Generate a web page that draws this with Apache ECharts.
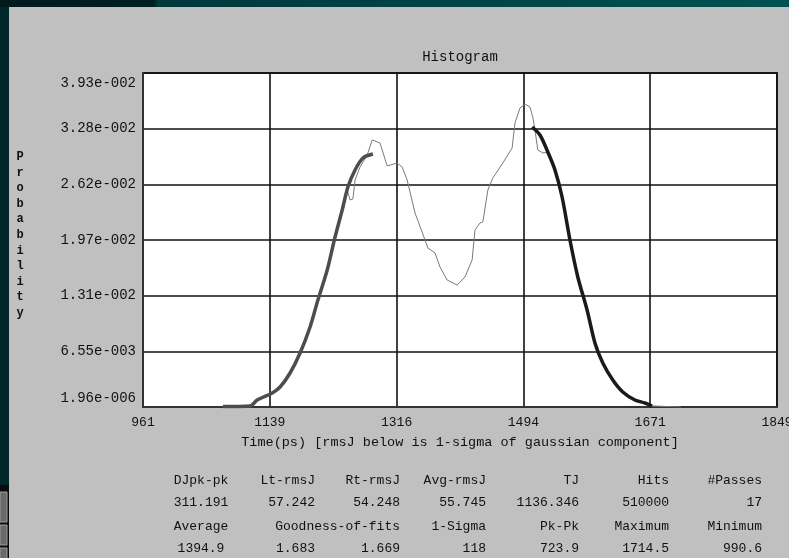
<!DOCTYPE html>
<html>
<head>
<meta charset="utf-8">
<script src="https://cdn.jsdelivr.net/npm/echarts@6.0.0/dist/echarts.min.js"></script>
<style>
html,body{margin:0;padding:0;background:#c0c0c0;}
#chart{width:789px;height:558px;}
</style>
</head>
<body>
<div id="chart"></div>
<script>
// ---- data ----
const xTickLabels = ["961","1139","1316","1494","1671","1849"];
const yTickLabels = ["1.96e-006","6.55e-003","1.31e-002","1.97e-002","2.62e-002","3.28e-002","3.93e-002"];
const xMin = 961, xMax = 1849, yMax = 0.0393;

const histTime = [1073,1111,1121,1142,1153,1167,1181,1195,1206,1219,1230,1240,1247,1251,1255,1258,1265,1275,1282,1293,1303,1317,1324,1331,1342,1356,1360,1370,1377,1387,1401,1412,1422,1426,1433,1437,1444,1451,1465,1478,1482,1489,1496,1503,1507,1510,1514,1521,1528,1538,1548,1559,1570,1583,1594,1605,1619,1633,1650,1664,1674,1714.5];
const histProb = [0.00006,0.00012,0.00082,0.00165,0.00235,0.0040,0.00635,0.00941,0.01259,0.01612,0.0200,0.02318,0.02553,0.02436,0.02447,0.02671,0.02824,0.02965,0.03142,0.03106,0.02836,0.02871,0.02824,0.02671,0.02283,0.01965,0.01871,0.01812,0.01647,0.01494,0.01435,0.0153,0.0173,0.02083,0.02165,0.02177,0.02553,0.02695,0.02871,0.03048,0.03342,0.03518,0.03565,0.0353,0.03412,0.03259,0.03024,0.02989,0.03,0.02789,0.02471,0.01965,0.0153,0.01141,0.00753,0.00518,0.00318,0.00177,0.00082,0.00047,0.00012,0];

const leftFitTime = [1073,1111,1121,1142,1153,1167,1181,1195,1206,1219,1230,1240,1248,1258,1269,1283];
const leftFitProb = [0.00006,0.00012,0.00082,0.00165,0.00235,0.0040,0.00635,0.00941,0.01259,0.01612,0.0200,0.02318,0.02589,0.02789,0.0293,0.02977];

const rightFitTime = [1506,1517,1528,1538,1548,1559,1570,1583,1594,1605,1619,1633,1650,1664,1674];
const rightFitProb = [0.03295,0.03201,0.03,0.02789,0.02471,0.01965,0.0153,0.01141,0.00753,0.00518,0.00318,0.00177,0.00082,0.00047,0.00012];

const tableHead1 = ["DJpk-pk","Lt-rmsJ","Rt-rmsJ","Avg-rmsJ","TJ","Hits","#Passes"];
const tableVal1  = ["311.191","57.242","54.248","55.745","1136.346","510000","17"];
const tableHead2 = ["Average","","Goodness-of-fits","1-Sigma","Pk-Pk","Maximum","Minimum"];
const tableVal2  = ["1394.9","1.683","1.669","118","723.9","1714.5","990.6"];

const titleText = "Histogram";
const yName = "Probability";
const xName = "Time(ps) [rmsJ below is 1-sigma of gaussian component]";

// ---- build ----
const FONT = "'Liberation Mono', 'DejaVu Sans Mono', monospace";
const zip = (a,b) => a.map((v,i)=>[v,b[i]]);

const colRight = [0,315,400,486,579,669,762];
const colCenter1 = 201;
const rowsY = [481,503,527,549];
const tableGraphics = [];
[tableHead1, tableVal1, tableHead2, tableVal2].forEach((row, r) => {
  row.forEach((txt, c) => {
    if (!txt) return;
    tableGraphics.push({
      type:'text',
      x: c === 0 ? colCenter1 : colRight[c],
      y: rowsY[r],
      style:{text:txt, font:'13px ' + FONT, fill:'#111', align: c===0?'center':'right', verticalAlign:'middle'}
    });
  });
});

const chart = echarts.init(document.getElementById('chart'), null, {renderer:'canvas'});
chart.setOption({
  animation:false,
  backgroundColor:'#c0c0c0',
  grid:{left:143, top:73, right:12, bottom:151, show:true, backgroundColor:'#ffffff', borderColor:'#333', borderWidth:2,
        containLabel:false, outerBoundsMode:'none'},
  xAxis:[
    {type:'value', min:xMin, max:xMax, show:false, gridIndex:0},
    {type:'value', min:0, max:5, interval:1, position:'bottom', gridIndex:0,
     axisLine:{show:true, lineStyle:{color:'#333', width:2}},
     axisTick:{show:false},
     splitLine:{show:true, lineStyle:{color:'#111', width:1.6}},
     axisLabel:{margin:9, color:'#111', fontFamily:FONT, fontSize:13, hideOverlap:false,
       formatter:(v)=>xTickLabels[Math.round(v)]},
     name:xName, nameLocation:'middle', nameGap:28,
     nameTextStyle:{color:'#111', fontFamily:FONT, fontSize:13.5}}
  ],
  yAxis:[
    {type:'value', min:0, max:yMax, show:false, gridIndex:0, position:'left'},
    {type:'value', min:0, max:6, interval:1, gridIndex:0, position:'left',
     axisLine:{show:true, lineStyle:{color:'#333', width:2}},
     axisTick:{show:false},
     splitLine:{show:true, lineStyle:{color:'#111', width:1.6}},
     axisLabel:{margin:7, color:'#111', fontFamily:FONT, fontSize:14, hideOverlap:false,
       formatter:(v)=>{const i=Math.round(v); const s=yTickLabels[i];
         if(i===6) return '{t|'+s+'}'; if(i===0) return '{b|'+s+'}'; return s;},
       rich:{
         t:{padding:[20,0,0,0], fontFamily:FONT, fontSize:14, color:'#111'},
         b:{padding:[0,0,18,0], fontFamily:FONT, fontSize:14, color:'#111'}
       }}}
  ],
  graphic:[
    {type:'rect', shape:{x:0,y:0,width:789,height:7}, silent:true,
     style:{fill:new echarts.graphic.LinearGradient(0,0,1,0,[
       {offset:0,color:'#001a1e'},{offset:0.195,color:'#001e22'},
       {offset:0.2,color:'#00383c'},{offset:1,color:'#005252'}])}},
    {type:'rect', shape:{x:0,y:7,width:9,height:478}, silent:true, style:{fill:'#00262a'}},
    {type:'rect', shape:{x:0,y:485,width:9,height:73}, silent:true, style:{fill:'#0c0c0c'}},
    {type:'rect', shape:{x:0,y:492,width:7,height:30}, silent:true, style:{fill:'#6a6a6a', stroke:'#9a9a9a', lineWidth:1}},
    {type:'rect', shape:{x:0,y:525,width:7,height:20}, silent:true, style:{fill:'#6a6a6a', stroke:'#9a9a9a', lineWidth:1}},
    {type:'rect', shape:{x:0,y:548,width:7,height:12}, silent:true, style:{fill:'#6a6a6a', stroke:'#9a9a9a', lineWidth:1}},
    {type:'text', x:460, y:57, style:{text:titleText, font:'14px ' + FONT, fill:'#111', align:'center', verticalAlign:'middle'}},
    {type:'text', x:20, y:235, style:{text:yName.split('').join('\n'), font:'bold 12px ' + FONT, fill:'#111', align:'center', verticalAlign:'middle', lineHeight:15.6}}
  ].concat(tableGraphics),
  series:[
    {type:'line', xAxisIndex:0, yAxisIndex:0, data:zip(histTime,histProb), showSymbol:false, symbol:'none',
     lineStyle:{color:'#7a7a7a', width:1}, z:3},
    {type:'line', xAxisIndex:0, yAxisIndex:0, data:zip(leftFitTime,leftFitProb), showSymbol:false, symbol:'none', smooth:0.3,
     lineStyle:{color:'#4d4d4d', width:3.5}, z:4},
    {type:'line', xAxisIndex:0, yAxisIndex:0, data:zip(rightFitTime,rightFitProb), showSymbol:false, symbol:'none', smooth:0.3,
     lineStyle:{color:'#1a1a1a', width:3.5}, z:4}
  ]
});
</script>
</body>
</html>
